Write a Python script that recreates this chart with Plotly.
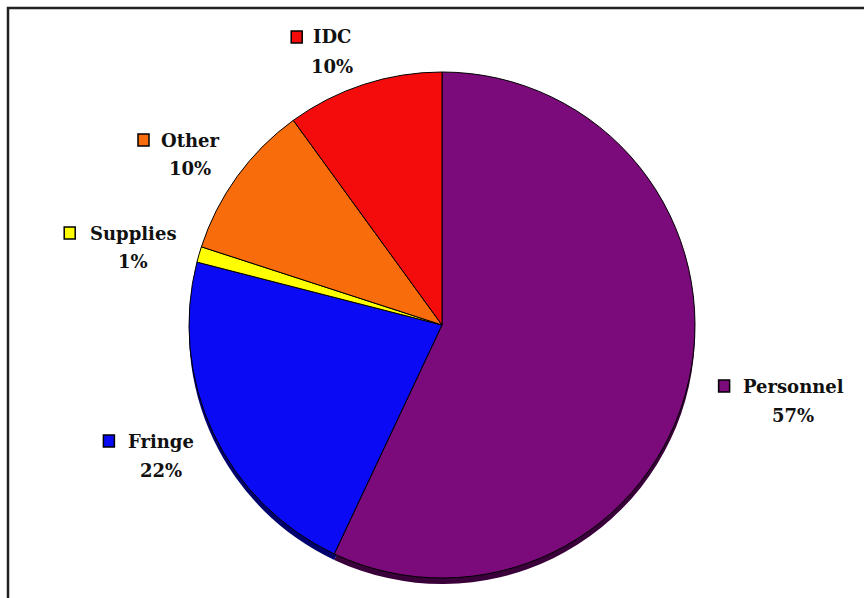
import plotly.graph_objects as go

# ---- data ----
categories = ["Personnel", "Fringe", "Supplies", "Other", "IDC"]
values = [57, 22, 1, 10, 10]
slice_colors = ["#7B0A7A", "#0A0AF5", "#FFFF00", "#F86C0C", "#F40C0C"]
shadow_colors = ["#3A003A", "#00006E", "#7A7A00", "#7A3300", "#7A0000"]

# label block centres (pixels, top-left origin) - layout only
label_pos = {
    "Personnel": (793, 386),
    "Fringe": (161, 441),
    "Supplies": (133, 233),
    "Other": (190, 140),
    "IDC": (332, 37),
}
LINE_GAP = 29

W, H = 864, 598
CX, CY, R = 442, 325, 253
SHADOW = 6

def px(x):
    return x / W

def py(y):
    return 1 - y / H

font = dict(family="DejaVu Serif", size=18, color="#111111")

fig = go.Figure()

# shadow pie (3D rim)
fig.add_trace(go.Pie(
    labels=categories, values=values, sort=False, direction="clockwise", rotation=0,
    marker=dict(colors=shadow_colors, line=dict(color="#000000", width=0)),
    textinfo="none", hoverinfo="skip", showlegend=False,
    domain=dict(x=[px(CX - R), px(CX + R)], y=[py(CY + SHADOW + R), py(CY + SHADOW - R)]),
))

# main pie
fig.add_trace(go.Pie(
    labels=categories, values=values, sort=False, direction="clockwise", rotation=0,
    marker=dict(colors=slice_colors, line=dict(color="#000000", width=1)),
    textinfo="none", hoverinfo="label+percent", showlegend=False,
    domain=dict(x=[px(CX - R), px(CX + R)], y=[py(CY + R), py(CY - R)]),
))

total = sum(values)
annotations = []
shapes = []
for cat, val, col in zip(categories, values, slice_colors):
    lx, ly = label_pos[cat]
    pct = f"{round(100 * val / total)}%"
    annotations.append(dict(
        x=px(lx), y=py(ly), xref="paper", yref="paper", text=f"<b>{cat}</b>",
        showarrow=False, font=font, xanchor="center", yanchor="middle",
    ))
    annotations.append(dict(
        x=px(lx), y=py(ly + LINE_GAP), xref="paper", yref="paper", text=f"<b>{pct}</b>",
        showarrow=False, font=font, xanchor="center", yanchor="middle",
    ))
    # colored marker square left of the name
    name_w = len(cat) * 11.2
    sx1 = lx - name_w / 2 - 13
    sx0 = sx1 - 11
    shapes.append(dict(
        type="rect", xref="paper", yref="paper",
        x0=px(sx0), x1=px(sx1), y0=py(ly + 6), y1=py(ly - 6),
        fillcolor=col, line=dict(color="#000000", width=1.5),
    ))

# chart frame (extends beyond the right and bottom edges)
shapes.append(dict(
    type="rect", xref="paper", yref="paper",
    x0=px(8), x1=px(W + 10), y0=py(H + 10), y1=py(8),
    line=dict(color="#222222", width=2.5), fillcolor="rgba(0,0,0,0)", layer="below",
))

fig.update_layout(
    width=W, height=H,
    margin=dict(l=0, r=0, t=0, b=0),
    paper_bgcolor="#FFFFFF", plot_bgcolor="#FFFFFF",
    annotations=annotations, shapes=shapes,
    showlegend=False,
)

fig.write_html("out.html")
